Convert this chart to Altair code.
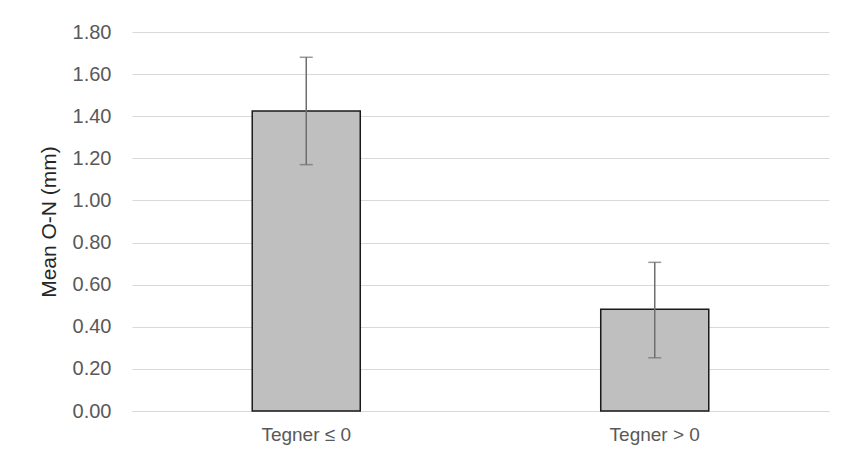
import altair as alt
import pandas as pd

categories = ["Tegner ≤ 0", "Tegner > 0"]
means = [1.425, 0.483]
lower = [1.17, 0.253]
upper = [1.68, 0.706]
y_ticks = [0.0, 0.2, 0.4, 0.6, 0.8, 1.0, 1.2, 1.4, 1.6, 1.8]

df = pd.DataFrame({"cat": categories, "mean": means, "lo": lower, "hi": upper})

font = "Liberation Sans"

x = alt.X(
    "cat:N",
    sort=categories,
    title=None,
    scale=alt.Scale(paddingInner=0.69, paddingOuter=0.345),
    axis=alt.Axis(
        labelAngle=0, ticks=False, domain=True, domainColor="#d9d9d9",
        labelFont=font, labelFontSize=19, labelColor="#595959", labelPadding=14,
        grid=False,
    ),
)
y_scale = alt.Scale(domain=[0, 1.8], nice=False)

bars = alt.Chart(df).mark_bar(
    color="#bfbfbf", stroke="#1a1a1a", strokeWidth=1.5
).encode(
    x=x,
    y=alt.Y(
        "mean:Q", scale=y_scale, title="Mean O-N (mm)",
        axis=alt.Axis(
            values=y_ticks, format=".2f", ticks=False, domain=False,
            grid=True, gridColor="#d9d9d9", gridWidth=1,
            labelFont=font, labelFontSize=20, labelColor="#595959", labelPadding=21,
            titleFont=font, titleFontSize=21, titleColor="#262626",
            titleFontWeight="normal", titlePadding=13,
        ),
    ),
)

rules = alt.Chart(df).mark_rule(color="#6e6e6e", strokeWidth=1.5).encode(
    x=alt.X("cat:N", sort=categories),
    y=alt.Y("lo:Q", scale=y_scale),
    y2="hi:Q",
)

caps_hi = alt.Chart(df).mark_tick(color="#6e6e6e", thickness=1.5, size=13).encode(
    x=alt.X("cat:N", sort=categories),
    y=alt.Y("hi:Q", scale=y_scale),
)
caps_lo = alt.Chart(df).mark_tick(color="#6e6e6e", thickness=1.5, size=13).encode(
    x=alt.X("cat:N", sort=categories),
    y=alt.Y("lo:Q", scale=y_scale),
)

chart = alt.layer(bars, rules, caps_hi, caps_lo).properties(
    width=697,
    height=379,
    autosize=alt.AutoSizeParams(type="none"),
    padding={"left": 124, "top": 24, "right": 9, "bottom": 41},
    background="white",
).configure_view(stroke=None)

chart.save("out.html", embed_options={"renderer": "svg", "actions": False})
